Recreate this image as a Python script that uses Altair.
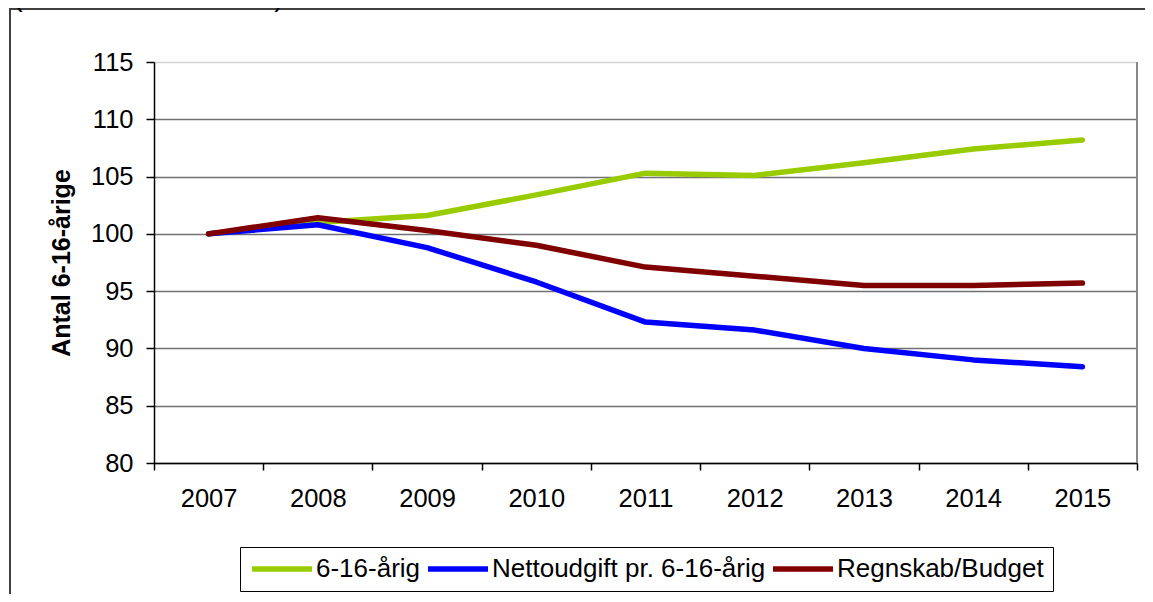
import altair as alt
import pandas as pd

years = [2007, 2008, 2009, 2010, 2011, 2012, 2013, 2014, 2015]
s_aarig = [100.0, 101.0, 101.6, 103.4, 105.3, 105.1, 106.2, 107.4, 108.2]
s_netto = [100.0, 100.8, 98.8, 95.8, 92.3, 91.6, 90.0, 89.0, 88.4]
s_regn = [100.0, 101.4, 100.3, 99.0, 97.1, 96.3, 95.5, 95.5, 95.7]

series_names = ["6-16-årig", "Nettoudgift pr. 6-16-årig", "Regnskab/Budget"]
series_colors = ["#99CC00", "#0000FF", "#800000"]
y_ticks = [80, 85, 90, 95, 100, 105, 110, 115]

rows = []
for name, vals in zip(series_names, [s_aarig, s_netto, s_regn]):
    for yr, v in zip(years, vals):
        rows.append({"year": str(yr), "value": v, "series": name})
df = pd.DataFrame(rows)

FONT = "Liberation Sans"
W, H = 983, 401

lines = alt.Chart(df).mark_line(strokeWidth=5.5, strokeCap="round", strokeJoin="round").encode(
    x=alt.X(
        "year:O",
        bandPosition=0.5,
        scale=alt.Scale(type="band", paddingInner=0, paddingOuter=0),
        axis=alt.Axis(
            title=None,
            labelAngle=0,
            tickBand="extent",
            domainColor="black",
            domainWidth=1.5,
            tickColor="black",
            tickWidth=1.5,
            tickSize=7,
            labelPadding=16,
            labelFontSize=25.5,
            labelFont=FONT,
            labelColor="black",
            grid=False,
        ),
    ),
    y=alt.Y(
        "value:Q",
        scale=alt.Scale(domain=[80, 115], nice=False, zero=False),
        axis=alt.Axis(
            title="Antal 6-16-årige",
            titleFont=FONT,
            titleFontSize=25,
            titleFontWeight="bold",
            titleColor="black",
            titlePadding=16,
            values=y_ticks,
            domainColor="black",
            domainWidth=1.5,
            tickColor="black",
            tickWidth=1.5,
            tickSize=8,
            labelPadding=13,
            labelFontSize=25.5,
            labelFont=FONT,
            labelColor="black",
            grid=True,
            gridColor={"condition": {"test": "datum.value == 115", "value": "#d2d2d2"}, "value": "#707070"},
            gridWidth=1.6,
        ),
    ),
    color=alt.Color(
        "series:N",
        scale=alt.Scale(domain=series_names, range=series_colors),
        legend=alt.Legend(
            title=None,
            orient="none",
            legendX=86,
            legendY=485,
            direction="horizontal",
            symbolType="M-1,0H5",
            symbolSize=400,
            symbolStrokeWidth=5.5,
            labelFont=FONT,
            labelFontSize=26,
            labelColor="black",
            labelLimit=0,
            labelOffset=41,
            columnPadding=-4,
            padding=9,
            strokeColor="black",
            fillColor="white",
        ),
    ),
)

one = alt.Data(values=[{}])

right_border = alt.Chart(one).mark_rule(color="#8a8a8a", strokeWidth=2).encode(
    x=alt.value(W), y=alt.value(0), y2=alt.value(H)
)

frame = alt.Chart(one).mark_rect(fill=None, stroke="#404040", strokeWidth=2, clip=False).encode(
    x=alt.value(-144), x2=alt.value(1200), y=alt.value(-53), y2=alt.value(700)
)

heading = alt.Chart(one).mark_text(
    text="(indeks 2007-niveau)", font=FONT, fontSize=29, align="left", baseline="alphabetic", color="black"
).encode(x=alt.value(-141), y=alt.value(-56.5))

chart = alt.layer(frame, right_border, lines, heading).properties(
    width=W,
    height=H,
    autosize=alt.AutoSizeParams(type="none"),
    padding={"left": 146, "top": 54, "right": 8, "bottom": 131},
    background="white",
).configure_view(stroke=None)

chart.save("out.html", embed_options={"renderer": "svg", "actions": False})
